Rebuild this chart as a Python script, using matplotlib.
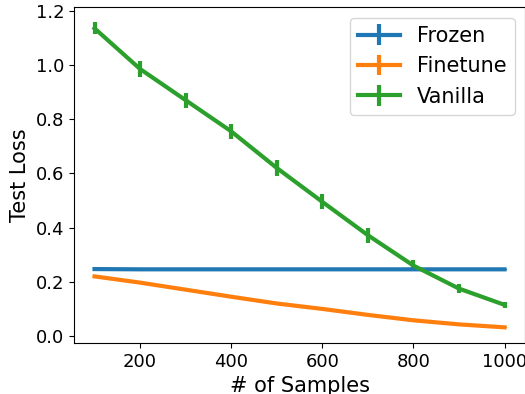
import numpy as np
import matplotlib
matplotlib.use("Agg")
import matplotlib.pyplot as plt

# number of samples
samples = [100, 200, 300, 400, 500, 600, 700, 800, 900, 1000]

frozen = [0.247, 0.246, 0.246, 0.246, 0.246, 0.246, 0.246, 0.246, 0.246, 0.246]
frozen_err = [0.002, 0.002, 0.002, 0.002, 0.002, 0.002, 0.002, 0.002, 0.002, 0.002]

finetune = [0.22, 0.197, 0.171, 0.145, 0.12, 0.10, 0.078, 0.058, 0.043, 0.032]
finetune_err = [0.002, 0.002, 0.002, 0.002, 0.002, 0.002, 0.002, 0.002, 0.002, 0.002]

vanilla = [1.135, 0.985, 0.87, 0.755, 0.62, 0.495, 0.372, 0.26, 0.175, 0.115]
vanilla_err = [0.022, 0.028, 0.028, 0.028, 0.03, 0.028, 0.028, 0.02, 0.016, 0.012]

fig = plt.figure(figsize=(5.25, 3.94), dpi=100)
ax = fig.add_axes([0.141, 0.129, 0.859, 0.853])

ax.errorbar(samples, frozen, yerr=frozen_err, linewidth=3, elinewidth=3, label="Frozen")
ax.errorbar(samples, finetune, yerr=finetune_err, linewidth=3, elinewidth=3, label="Finetune")
ax.errorbar(samples, vanilla, yerr=vanilla_err, linewidth=3, elinewidth=3, label="Vanilla")

ax.set_xlabel("# of Samples", fontsize=15)
ax.set_ylabel("Test Loss", fontsize=15)
ax.tick_params(labelsize=13)
ax.set_xticks([200, 400, 600, 800, 1000])
ax.set_yticks([0.0, 0.2, 0.4, 0.6, 0.8, 1.0, 1.2])
ax.legend(fontsize=15, loc="upper right")

fig.savefig("out.png", dpi=100)
